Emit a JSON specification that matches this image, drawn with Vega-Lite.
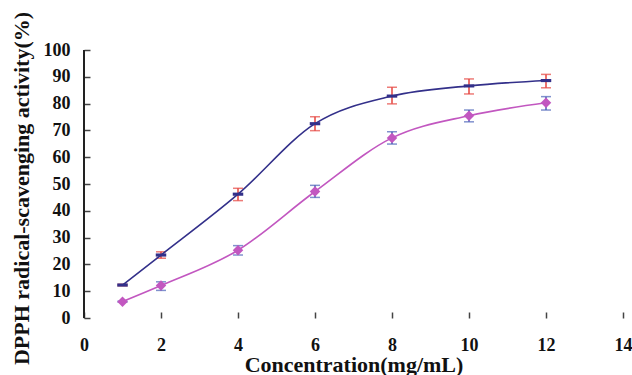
{
  "$schema": "https://vega.github.io/schema/vega-lite/v6.json",
  "autosize": "none",
  "width": 539,
  "height": 268,
  "padding": {"left": 84, "top": 50, "right": 9, "bottom": 57},
  "background": "white",
  "config": {
    "view": {"stroke": null},
    "font": "Liberation Serif",
    "axis": {
      "grid": false,
      "domain": false,
      "ticks": true,
      "tickColor": "#444444",
      "tickWidth": 1.5,
      "tickSize": 6,
      "offset": -6,
      "labelOverlap": false,
      "labelFlush": false,
      "labelFont": "Liberation Serif",
      "labelFontSize": 18,
      "labelFontWeight": "bold",
      "labelColor": "#111111",
      "titleFont": "Liberation Serif",
      "titleFontSize": 22,
      "titleFontWeight": "bold",
      "titleColor": "#111111"
    },
    "axisY": {
      "labelPadding": 14,
      "titleX": -62,
      "titleY": 138,
      "titleBaseline": "alphabetic"
    },
    "axisX": {
      "labelPadding": 18,
      "titleY": 59,
      "titleBaseline": "alphabetic"
    }
  },
  "data": {
    "values": [
      {"series": "SFE", "conc": 1, "value": 12.3, "lo": 12.0, "hi": 12.6},
      {"series": "SFE", "conc": 2, "value": 23.5, "lo": 22.3, "hi": 24.7},
      {"series": "SFE", "conc": 4, "value": 46.2, "lo": 43.8, "hi": 48.4},
      {"series": "SFE", "conc": 6, "value": 72.5, "lo": 69.9, "hi": 75.1},
      {"series": "SFE", "conc": 8, "value": 82.8, "lo": 79.9, "hi": 86.1},
      {"series": "SFE", "conc": 10, "value": 86.6, "lo": 83.6, "hi": 89.2},
      {"series": "SFE", "conc": 12, "value": 88.6, "lo": 85.9, "hi": 90.9},
      {"series": "SE", "conc": 1, "value": 6.1, "lo": 5.9, "hi": 6.3},
      {"series": "SE", "conc": 2, "value": 12.1, "lo": 10.3, "hi": 13.5},
      {"series": "SE", "conc": 4, "value": 25.3, "lo": 23.5, "hi": 27.0},
      {"series": "SE", "conc": 6, "value": 47.2, "lo": 45.0, "hi": 49.5},
      {"series": "SE", "conc": 8, "value": 67.2, "lo": 64.9, "hi": 69.5},
      {"series": "SE", "conc": 10, "value": 75.5, "lo": 73.2, "hi": 77.6},
      {"series": "SE", "conc": 12, "value": 80.3, "lo": 77.6, "hi": 82.6}
    ]
  },
  "encoding": {
    "x": {
      "field": "conc", "type": "quantitative",
      "scale": {"domain": [0, 14], "nice": false, "zero": false},
      "axis": {
        "values": [0, 2, 4, 6, 8, 10, 12, 14],
        "labelFlush": false,
        "title": "Concentration(mg/mL)"
      }
    },
    "y": {
      "field": "value", "type": "quantitative",
      "scale": {"domain": [0, 100], "nice": false},
      "axis": {"values": [0, 10, 20, 30, 40, 50, 60, 70, 80, 90, 100], "tickCount": 11, "labelOverlap": false, "labelFlush": false, "labelPadding": 14, "title": "DPPH radical-scavenging activity(%)"}
    }
  },
  "layer": [
    {
      "mark": {"type": "rule", "strokeWidth": 1.5},
      "encoding": {
        "y": {"field": "lo", "type": "quantitative", "axis": {"values": [0, 10, 20, 30, 40, 50, 60, 70, 80, 90, 100], "tickCount": 11, "labelOverlap": false, "labelFlush": false, "labelPadding": 14, "title": "DPPH radical-scavenging activity(%)"}},
        "y2": {"field": "hi"},
        "stroke": {"field": "series", "type": "nominal", "scale": {"domain": ["SFE", "SE"], "range": ["#e5453f", "#4a62b8"]}, "legend": null}
      }
    },
    {
      "mark": {"type": "rule", "color": "#222222", "strokeWidth": 1},
      "encoding": {"x": {"datum": 0}, "y": {"datum": 0}, "y2": {"datum": 100}}
    },
    {
      "mark": {"type": "rule", "color": "#222222", "strokeWidth": 1},
      "encoding": {"y": {"datum": 0}}
    },
    {
      "mark": {"type": "tick", "orient": "horizontal", "size": 10, "thickness": 1.5},
      "encoding": {
        "y": {"field": "lo", "type": "quantitative", "axis": {"values": [0, 10, 20, 30, 40, 50, 60, 70, 80, 90, 100], "tickCount": 11, "labelOverlap": false, "labelFlush": false, "labelPadding": 14, "title": "DPPH radical-scavenging activity(%)"}},
        "fill": {"field": "series", "type": "nominal", "scale": {"domain": ["SFE", "SE"], "range": ["#e5453f", "#4a62b8"]}, "legend": null}
      }
    },
    {
      "mark": {"type": "tick", "orient": "horizontal", "size": 10, "thickness": 1.5},
      "encoding": {
        "y": {"field": "hi", "type": "quantitative", "axis": {"values": [0, 10, 20, 30, 40, 50, 60, 70, 80, 90, 100], "tickCount": 11, "labelOverlap": false, "labelFlush": false, "labelPadding": 14, "title": "DPPH radical-scavenging activity(%)"}},
        "fill": {"field": "series", "type": "nominal", "legend": null}
      }
    },
    {
      "mark": {"type": "line", "interpolate": "monotone", "strokeWidth": 1.6},
      "encoding": {
        "color": {
          "field": "series", "type": "nominal",
          "scale": {"domain": ["SFE", "SE"], "range": ["#33308a", "#c257c0"]},
          "legend": {
            "title": null,
            "orient": "none",
            "legendX": 159,
            "legendY": -31,
            "direction": "horizontal",
            "columns": 2,
            "columnPadding": 74,
            "padding": 0,
            "labelOffset": 7,
            "labelFont": "Liberation Serif",
            "labelFontSize": 23,
            "labelFontWeight": "bold",
            "labelColor": "#111111",
            "symbolSize": 1600,
            "symbolStrokeWidth": 1.5,
            "encode": {
              "symbols": {
                "update": {
                  "shape": {"signal": "datum.value == 'SFE' ? 'M-1,0L1,0M-0.22,-0.07L0.22,-0.07L0.22,0.07L-0.22,0.07Z' : 'M-1,0L1,0M-0.26,0L0,-0.26L0.26,0L0,0.26Z'"},
                  "fill": {"signal": "datum.value == 'SFE' ? '#2b2878' : '#b845b5'"},
                  "stroke": {"signal": "datum.value == 'SFE' ? '#33308a' : '#c257c0'"},
                  "opacity": {"value": 1}
                }
              }
            }
          }
        }
      }
    },
    {
      "mark": {"type": "point", "filled": true, "opacity": 1},
      "encoding": {
        "color": {"field": "series", "type": "nominal"},
        "shape": {
          "field": "series", "type": "nominal",
          "scale": {"domain": ["SFE", "SE"], "range": ["M-1,-0.3L1,-0.3L1,0.3L-1,0.3Z", "diamond"]},
          "legend": null
        },
        "size": {"value": 110}
      }
    }
  ]
}
